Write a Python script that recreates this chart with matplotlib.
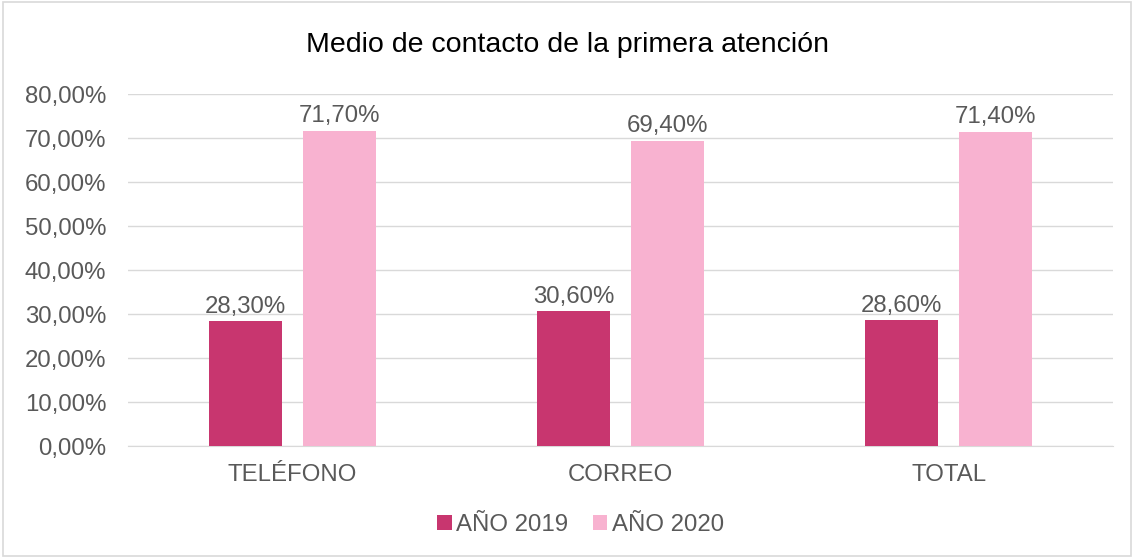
import numpy as np
import matplotlib.pyplot as plt
from matplotlib.patches import Rectangle

plt.rcParams['font.family'] = ['Liberation Sans', 'DejaVu Sans']

categories = ['TELÉFONO', 'CORREO', 'TOTAL']
anio_2019 = [28.3, 30.6, 28.6]
anio_2020 = [71.7, 69.4, 71.4]
series_names = ['AÑO 2019', 'AÑO 2020']
y_ticks = [0, 10, 20, 30, 40, 50, 60, 70, 80]

color_2019 = '#C8366F'
color_2020 = '#F8B2D0'
text_color = '#595959'

def pct(v):
    return f'{v:.2f}'.replace('.', ',') + '%'

fig = plt.figure(figsize=(11.34, 5.58), dpi=100)
ax = fig.add_axes([128 / 1134, 0.2007, 985 / 1134, 0.6308])

x = np.arange(len(categories))
w = 0.2225
off = 0.143
b1 = ax.bar(x - off, anio_2019, w, color=color_2019, label=series_names[0], zorder=3)
b2 = ax.bar(x + off, anio_2020, w, color=color_2020, label=series_names[1], zorder=3)

# etiquetas de datos
for bars, vals in [(b1, anio_2019), (b2, anio_2020)]:
    for r, v in zip(bars, vals):
        ax.text(r.get_x() + r.get_width() / 2, v + 0.8, pct(v),
                ha='center', va='bottom', fontsize=17.3, color=text_color)

ax.set_xlim(-0.5, 2.5)
ax.set_ylim(0, 80)
ax.set_yticks(y_ticks)
ax.set_yticklabels([pct(t) for t in y_ticks])
ax.set_xticks(x)
ax.set_xticklabels(categories)
ax.tick_params(axis='both', length=0, labelsize=17.3, labelcolor=text_color)
ax.tick_params(axis='x', pad=13)
ax.tick_params(axis='y', pad=15.5)
ax.grid(axis='y', color='#D9D9D9', linewidth=1, zorder=0)
for s in ['top', 'right', 'left']:
    ax.spines[s].set_visible(False)
ax.spines['bottom'].set_color('#D9D9D9')

fig.text(0.5, 0.919, 'Medio de contacto de la primera atención', ha='center', va='center',
         fontsize=20.5, color='black')

fig.legend(loc='center', bbox_to_anchor=(0.512, 0.059), ncol=2, frameon=False,
           fontsize=17.3, handlelength=0.6, handleheight=0.6, handletextpad=0.2,
           columnspacing=1.0, labelcolor=text_color)

fig.patches.append(Rectangle((0.003, 0.003), 0.994, 0.994, transform=fig.transFigure,
                             fill=False, edgecolor='#D9D9D9', linewidth=1.2))

fig.savefig('out.png', dpi=100)
